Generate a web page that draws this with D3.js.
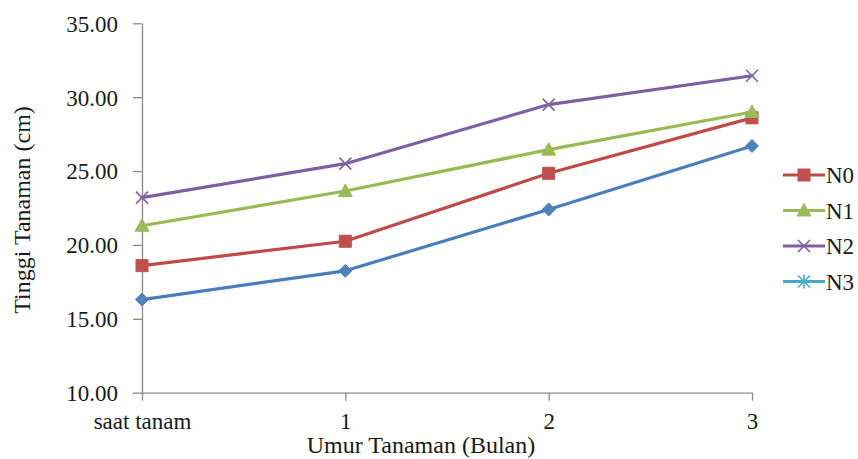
<!DOCTYPE html>
<html>
<head>
<meta charset="utf-8">
<script src="https://cdn.jsdelivr.net/npm/d3@7"></script>
<style>
  html, body { margin: 0; padding: 0; background: #fff; }
  svg { display: block; }
  svg text { font-family: 'Liberation Serif', 'Times New Roman', serif !important; fill: #1a1a1a; }
</style>
</head>
<body>
<svg id="chart" width="858" height="459" font-family="'Liberation Serif', serif"></svg>
<script>
// ---- data ----
const categories = ["saat tanam", "1", "2", "3"];
const yTicks = [10, 15, 20, 25, 30, 35];
const seriesBlue = [16.3, 18.25, 22.4, 26.7];   // unlabeled series (no legend entry)
const seriesN0 = [18.6, 20.25, 24.85, 28.6];
const seriesN1 = [21.3, 23.65, 26.45, 29.0];
const seriesN2 = [23.2, 25.5, 29.5, 31.45];
const seriesN3 = [];                            // legend entry only
const seriesNames = ["", "N0", "N1", "N2", "N3"];
const xTitle = "Umur Tanaman (Bulan)";
const yTitle = "Tinggi Tanaman (cm)";

// ---- styles ----
const styles = [
  { line: "#4A7EBB", fill: "#4F81BD", marker: "diamond" },
  { line: "#BE4B48", fill: "#C0504D", marker: "square" },
  { line: "#98B954", fill: "#9BBB59", marker: "triangle" },
  { line: "#7D60A0", fill: "#8064A2", marker: "x" },
  { line: "#46AAC5", fill: "#4BACC6", marker: "star" }
];
const allSeries = [seriesBlue, seriesN0, seriesN1, seriesN2, seriesN3];

const svg = d3.select("#chart");
const x = d3.scalePoint().domain(categories).range([142, 752]).padding(0);
const y = d3.scaleLinear().domain([10, 35]).range([392.7, 23.3]);
const axisColor = "#8a8a8a";
const tickFont = 23;
const titleFont = 24;
const serif = "'Liberation Serif', 'Times New Roman', serif";

// Y axis
const yAxis = d3.axisLeft(y).tickValues(yTicks).tickFormat(d3.format(".2f")).tickSize(9).tickSizeOuter(0);
const gy = svg.append("g").attr("transform", "translate(142,0)").call(yAxis)
  .attr("font-family", serif).attr("font-size", tickFont);
gy.select(".domain").attr("stroke", axisColor).attr("stroke-width", 1.3);
gy.selectAll(".tick line").attr("stroke", axisColor).attr("stroke-width", 1.3);
gy.selectAll(".tick text").attr("x", -24).attr("dy", "0.34em").attr("fill", "#1a1a1a");

// X axis
const xAxis = d3.axisBottom(x).tickSize(8).tickSizeOuter(0);
const gx = svg.append("g").attr("transform", "translate(0,392.7)").call(xAxis)
  .attr("font-family", serif).attr("font-size", tickFont);
gx.select(".domain").attr("stroke", axisColor).attr("stroke-width", 1.3);
gx.selectAll(".tick line").attr("stroke", axisColor).attr("stroke-width", 1.3);
gx.selectAll(".tick text").attr("y", 36.5).attr("dy", 0).attr("fill", "#1a1a1a");

// Titles
svg.append("text").attr("x", 421).attr("y", 453).attr("text-anchor", "middle")
  .attr("font-family", serif).attr("font-size", titleFont).text(xTitle);
svg.append("text").attr("transform", "translate(30,210) rotate(-90)").attr("text-anchor", "middle")
  .attr("font-family", serif).attr("font-size", titleFont).text(yTitle);

// marker drawing
function drawMarker(g, type, cx, cy, st) {
  const s = 6.5;
  if (type === "diamond") {
    g.append("path").attr("d", `M${cx},${cy - s} L${cx + s},${cy} L${cx},${cy + s} L${cx - s},${cy} Z`)
      .attr("fill", st.fill).attr("stroke", st.fill).attr("stroke-width", 1);
  } else if (type === "square") {
    g.append("rect").attr("x", cx - 6).attr("y", cy - 6).attr("width", 12).attr("height", 12)
      .attr("fill", st.fill).attr("stroke", st.fill).attr("stroke-width", 1);
  } else if (type === "triangle") {
    g.append("path").attr("d", `M${cx},${cy - 7} L${cx + 7},${cy + 5.5} L${cx - 7},${cy + 5.5} Z`)
      .attr("fill", st.fill).attr("stroke", st.fill).attr("stroke-width", 1);
  } else if (type === "x") {
    g.append("path").attr("d", `M${cx - 6},${cy - 6} L${cx + 6},${cy + 6} M${cx - 6},${cy + 6} L${cx + 6},${cy - 6}`)
      .attr("stroke", st.fill).attr("stroke-width", 1.6).attr("fill", "none");
  } else if (type === "star") {
    g.append("path").attr("d", `M${cx - 6},${cy - 6} L${cx + 6},${cy + 6} M${cx - 6},${cy + 6} L${cx + 6},${cy - 6} M${cx},${cy - 7} L${cx},${cy + 7}`)
      .attr("stroke", st.fill).attr("stroke-width", 1.6).attr("fill", "none");
  }
}

// Lines and markers
const line = d3.line().x((d, i) => x(categories[i])).y(d => y(d));
allSeries.forEach((vals, si) => {
  if (!vals.length) return;
  const st = styles[si];
  const g = svg.append("g");
  g.append("path").datum(vals).attr("d", line).attr("fill", "none")
    .attr("stroke", st.line).attr("stroke-width", 3.2).attr("stroke-linejoin", "round").attr("stroke-linecap", "round");
  vals.forEach((v, i) => drawMarker(g, st.marker, x(categories[i]), y(v), st));
});

// Legend
const legendY = [175, 210.5, 246, 281.5];
[1, 2, 3, 4].forEach((si, k) => {
  const st = styles[si];
  const g = svg.append("g");
  const cy = legendY[k];
  g.append("line").attr("x1", 783).attr("x2", 825).attr("y1", cy).attr("y2", cy)
    .attr("stroke", st.line).attr("stroke-width", 3.2);
  drawMarker(g, st.marker, 804, cy, st);
  g.append("text").attr("x", 826).attr("y", cy + 8)
    .attr("font-family", serif).attr("font-size", tickFont).text(seriesNames[si]);
});
</script>
</body>
</html>
